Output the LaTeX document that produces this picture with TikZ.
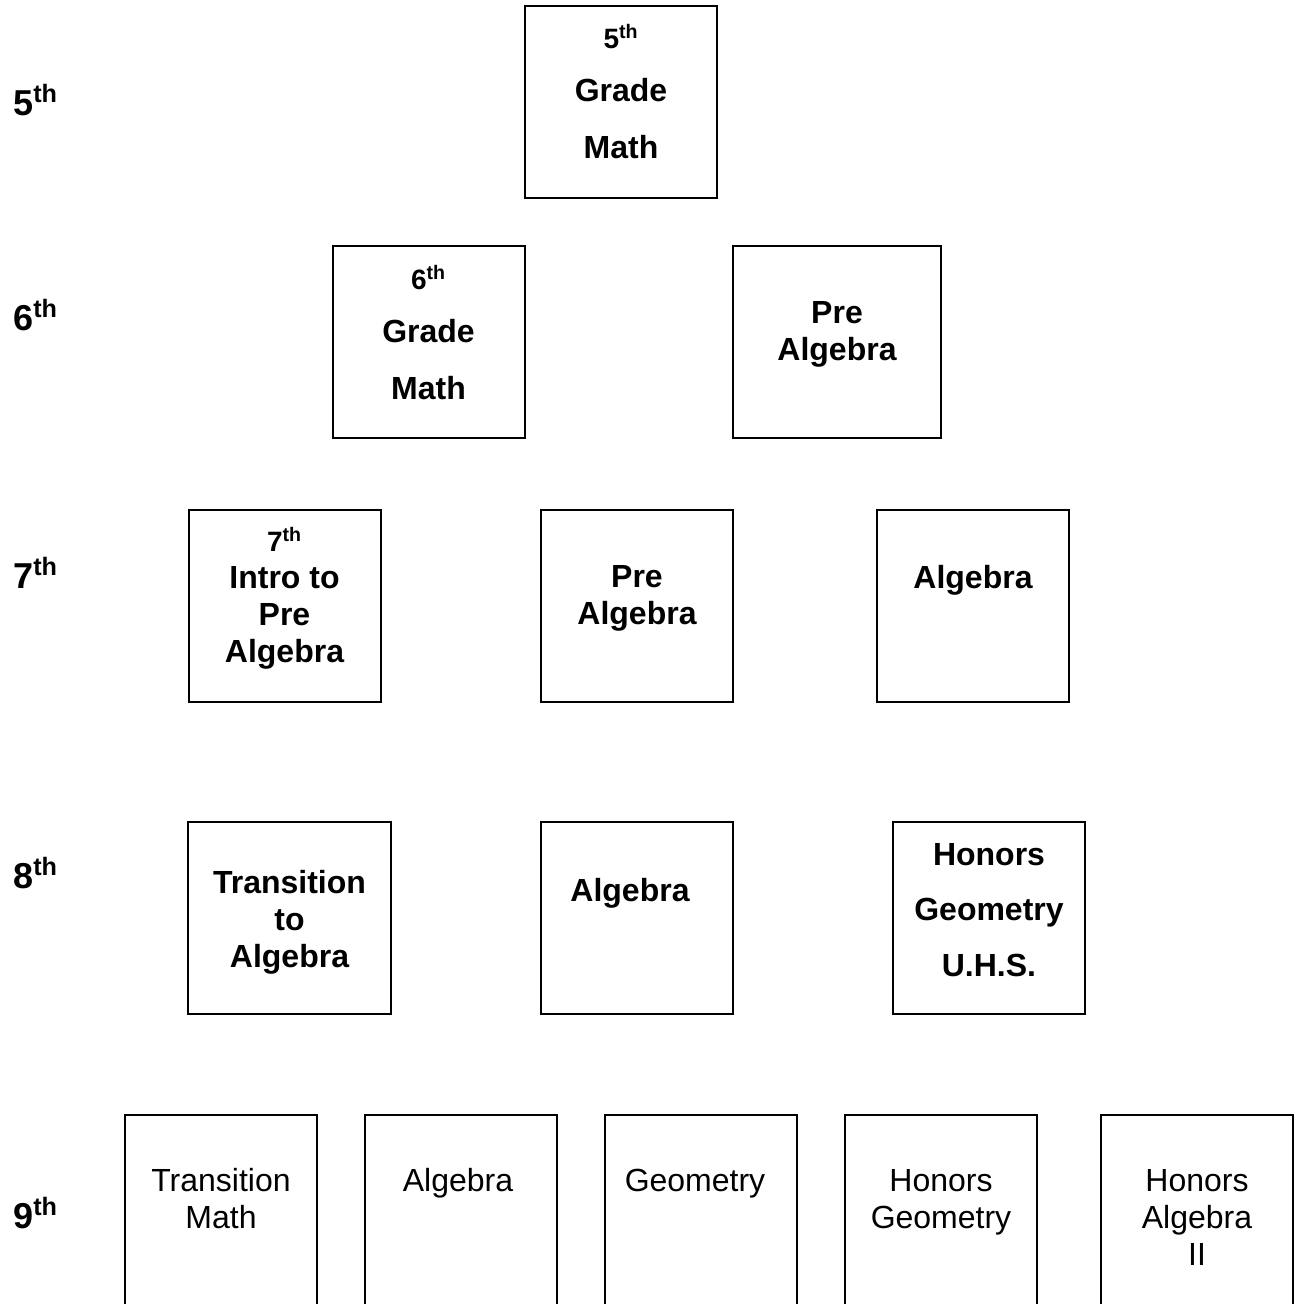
\documentclass[tikz,border=0pt]{standalone}
\usepackage{fontspec}
\setmainfont{Liberation Sans}
\tikzset{
  course/.style={draw, line width=1.5pt, minimum width=144pt, minimum height=144pt, inner sep=0pt},
  open/.style={draw, line width=1.5pt, minimum width=144pt, minimum height=210pt, inner sep=0pt},
  title/.style={align=center, inner sep=0pt, font=\fontsize{24}{27.75}\selectfont\bfseries},
  plain/.style={align=center, inner sep=0pt, font=\fontsize{24}{27.75}\selectfont},
  grade/.style={anchor=base west, inner sep=0pt, font=\fontsize{27}{30}\selectfont\bfseries}
}

\begin{document}
\begin{tikzpicture}[x=0.75pt,y=-0.75pt]
  \clip (0,0) rectangle (1294,1304);

  % grade labels
  \node[grade] (l5) at (13,115) {5\textsuperscript{th}};
  \node[grade] (l6) at (13,330) {6\textsuperscript{th}};
  \node[grade] (l7) at (13,588) {7\textsuperscript{th}};
  \node[grade] (l8) at (13,888) {8\textsuperscript{th}};
  \node[grade] (l9) at (13,1228) {9\textsuperscript{th}};

  % 5th
  \node[course] (b5) at (621,101.5) {};
  \node[title] (b5t) at (621,92) {{\fontsize{21}{24}\selectfont 5\textsuperscript{th}}\\[12pt] Grade\\[15pt] Math};

  % 6th
  \node[course] (b6) at (428.5,342) {};
  \node[title] (b6t) at (428.5,333) {{\fontsize{21}{24}\selectfont 6\textsuperscript{th}}\\[12pt] Grade\\[15pt] Math};
  \node[course, minimum width=156pt] (p6) at (837,342) {};
  \node[title] (p6t) at (837,334) {Pre\\ Algebra};

  % 7th
  \node[course] (b7) at (284.5,606) {};
  \node[title] (b7t) at (284.5,598) {{\fontsize{21}{24}\selectfont 7\textsuperscript{th}}\\ Intro to\\ Pre\\ Algebra};
  \node[course] (p7) at (637,606) {};
  \node[title] (p7t) at (637,598) {Pre\\ Algebra};
  \node[course] (a7) at (973,606) {};
  \node[title] (a7t) at (973,580) {Algebra};

  % 8th
  \node[course, minimum width=152.25pt] (t8) at (289.5,918) {};
  \node[title] (t8t) at (289.5,922) {Transition\\ to\\ Algebra};
  \node[course] (a8) at (637,918) {};
  \node[title] (a8t) at (630,893) {Algebra};
  \node[course] (h8) at (989,918) {};
  \node[title] (h8t) at (989,910) {Honors\\[14pt] Geometry\\[14pt] U.H.S.};

  % 9th
  \node[open, anchor=north] (n1) at (221,1114) {};
  \node[plain] (n1t) at (221,1199) {Transition\\ Math};
  \node[open, anchor=north] (n2) at (461,1114) {};
  \node[plain] (n2t) at (458,1183) {Algebra};
  \node[open, anchor=north] (n3) at (701,1114) {};
  \node[plain] (n3t) at (695,1184) {Geometry};
  \node[open, anchor=north] (n4) at (941,1114) {};
  \node[plain] (n4t) at (941,1202) {Honors\\ Geometry};
  \node[open, anchor=north] (n5) at (1197,1114) {};
  \node[plain] (n5t) at (1197,1217) {Honors\\ Algebra\\ II};
\end{tikzpicture}
\end{document}
